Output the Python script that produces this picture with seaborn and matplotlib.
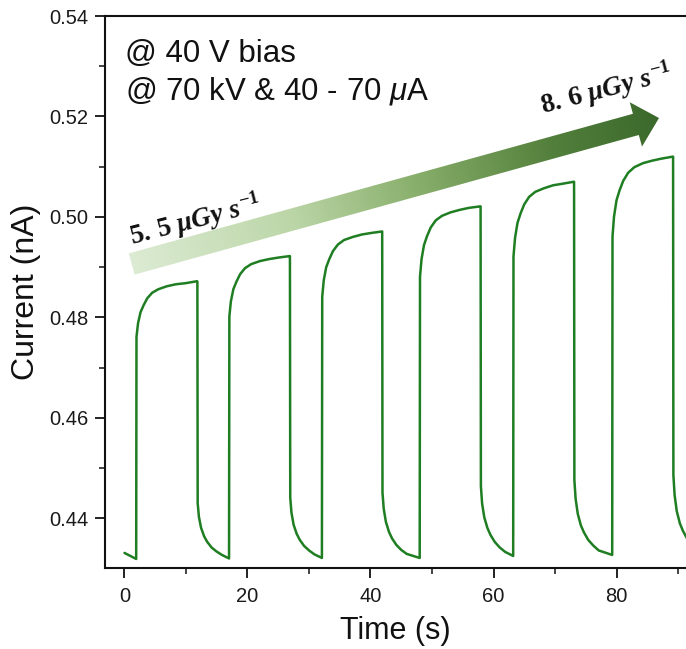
import numpy as np
import pandas as pd
import matplotlib
matplotlib.use("Agg")
import matplotlib.pyplot as plt
import seaborn as sns
from matplotlib.ticker import MultipleLocator, FormatStrFormatter
from matplotlib.patches import Polygon
from matplotlib.colors import LinearSegmentedColormap

# ---------------- data ----------------
time_s = [
    0.0, 0.8, 1.9,
    1.95, 2.2, 2.6, 3.1, 3.7, 4.5, 5.5, 6.9, 8.4, 9.9, 11.8,
    11.85, 11.9, 12.1, 12.45, 12.95, 13.45, 14.15, 14.95, 15.85,
    17.0, 17.05, 17.3, 17.7, 18.2, 18.8, 19.6, 20.6, 22.0, 23.5, 25.0, 26.85,
    26.9, 26.95, 27.15, 27.5, 28.0, 28.5, 29.2, 30.0, 30.9,
    32.1, 32.15, 32.4, 32.8, 33.3, 33.9, 34.7, 35.7, 37.1, 38.6, 40.1, 41.85,
    41.9, 41.95, 42.15, 42.5, 43.0, 43.5, 44.2, 45.0, 45.9,
    48.0, 48.05, 48.3, 48.7, 49.2, 49.8, 50.6, 51.6, 53.0, 54.5, 56.0, 57.85,
    57.9, 57.95, 58.15, 58.5, 59.0, 59.5, 60.2, 61.0, 61.9,
    63.2, 63.25, 63.5, 63.9, 64.4, 65.0, 65.8, 66.8, 68.2, 69.7, 71.2, 73.05,
    73.1, 73.15, 73.35, 73.7, 74.2, 74.7, 75.4, 76.2, 77.1,
    79.3, 79.35, 79.6, 80.0, 80.5, 81.1, 81.9, 82.9, 84.3, 85.8, 87.3, 89.15,
    89.2, 89.25, 89.45, 89.8, 90.3, 90.8, 91.5,
]
current_nA = [
    0.4331, 0.4326, 0.4319,
    0.4761, 0.4788, 0.4810, 0.4824, 0.4838, 0.4849, 0.4856, 0.4862, 0.4866, 0.4868, 0.4872,
    0.4871, 0.4430, 0.4403, 0.4381, 0.4364, 0.4353, 0.4342, 0.4334, 0.4327,
    0.4320, 0.4802, 0.4832, 0.4856, 0.4871, 0.4886, 0.4898, 0.4906, 0.4912, 0.4916, 0.4919, 0.4922,
    0.4922, 0.4441, 0.4411, 0.4387, 0.4369, 0.4357, 0.4345, 0.4336, 0.4328,
    0.4321, 0.4841, 0.4874, 0.4900, 0.4916, 0.4932, 0.4945, 0.4954, 0.4960, 0.4965, 0.4968, 0.4971,
    0.4971, 0.4451, 0.4419, 0.4393, 0.4373, 0.4360, 0.4347, 0.4337, 0.4329,
    0.4321, 0.4881, 0.4916, 0.4944, 0.4962, 0.4979, 0.4993, 0.5002, 0.5009, 0.5014, 0.5018, 0.5021,
    0.5021, 0.4464, 0.4429, 0.4402, 0.4381, 0.4367, 0.4353, 0.4342, 0.4333,
    0.4325, 0.4921, 0.4958, 0.4988, 0.5007, 0.5025, 0.5040, 0.5050, 0.5057, 0.5063, 0.5066, 0.5070,
    0.5070, 0.4476, 0.4439, 0.4409, 0.4386, 0.4372, 0.4357, 0.4346, 0.4336,
    0.4327, 0.4961, 0.5001, 0.5033, 0.5053, 0.5072, 0.5088, 0.5099, 0.5107, 0.5112, 0.5116, 0.5120,
    0.5120, 0.4486, 0.4446, 0.4414, 0.4390, 0.4375, 0.4359,
]
x_ticks = [0, 20, 40, 60, 80]
y_ticks = [0.44, 0.46, 0.48, 0.50, 0.52, 0.54]
x_label = "Time (s)"
y_label = "Current (nA)"
info_lines = ["@ 40 V bias", r"@ 70 kV & 40 - 70 $\mathsf{\mu}$A"]
dose_low = r"$\mathbf{5.\,5}\ \mathit{\mu Gy}\ \mathit{s}^{-1}$"
dose_high = r"$\mathbf{8.\,6}\ \mathit{\mu Gy}\ \mathit{s}^{-1}$"

df = pd.DataFrame({"Time": time_s, "Current": current_nA})

# ---------------- style ----------------
sns.set_theme(style="ticks")
plt.rcParams["font.family"] = ["Liberation Sans", "DejaVu Sans"]
plt.rcParams["mathtext.fontset"] = "custom"
plt.rcParams["mathtext.rm"] = "Liberation Serif:bold"
plt.rcParams["mathtext.bf"] = "Liberation Serif:bold"
plt.rcParams["mathtext.it"] = "Liberation Serif:bold:italic"
plt.rcParams["mathtext.sf"] = "Liberation Sans:italic"

W, H = 686, 649
fig = plt.figure(figsize=(W / 100, H / 100), dpi=100)
ax = fig.add_axes([105 / W, 81 / H, 1 - 105 / W, (568 - 16) / H])

sns.lineplot(data=df, x="Time", y="Current", ax=ax, color="#1f7d22",
             linewidth=1.8, estimator=None, sort=False)

ax.set_xlim(-3.17, 91.3)
ax.set_ylim(0.4301, 0.54)
ax.set_xticks(x_ticks)
ax.set_yticks(y_ticks)
ax.xaxis.set_minor_locator(MultipleLocator(10))
ax.yaxis.set_minor_locator(MultipleLocator(0.01))
ax.yaxis.set_major_formatter(FormatStrFormatter("%.2f"))

for side in ["left", "bottom", "top"]:
    ax.spines[side].set_visible(True)
    ax.spines[side].set_linewidth(1.5)
    ax.spines[side].set_color("#111111")
ax.spines["right"].set_visible(False)

ax.tick_params(axis="both", which="major", direction="out", length=7, width=1.3,
               colors="#111111", labelsize=14.5, pad=5, labelcolor="#1a1a1a")
ax.tick_params(axis="both", which="minor", direction="out", length=4, width=1.1,
               colors="#111111")
ax.tick_params(axis="x", which="major", pad=7)
ax.tick_params(top=False, which="both")

ax.set_xlabel(x_label, fontsize=22, labelpad=7, color="#111111")
ax.set_ylabel(y_label, fontsize=23, labelpad=6, color="#111111")
ax.grid(False)

# ---------------- overlay (pixel coords) for annotations ----------------
ov = fig.add_axes([0, 0, 1, 1])
ov.set_xlim(0, W)
ov.set_ylim(H, 0)
ov.axis("off")

tail = np.array([131.7, 264.0])
tip = np.array([659.0, 118.0])
d = tip - tail
L = np.hypot(*d)
u = d / L
n = np.array([-u[1], u[0]])
hw_shaft, hw_head, head_len = 11.0, 23.0, 24.0
base = tip - head_len * u
verts = [tail - hw_shaft * n, base - hw_shaft * n, base - hw_head * n, tip,
         base + hw_head * n, base + hw_shaft * n, tail + hw_shaft * n]
poly = Polygon(verts, closed=True, facecolor="none", edgecolor="none")
ov.add_patch(poly)

cmap = LinearSegmentedColormap.from_list(
    "arr", [(0.0, "#dcebd3"), (0.3, "#bcd6a8"), (0.55, "#86ad69"),
            (0.8, "#527f3b"), (1.0, "#3b692c")])
vs = np.array(verts)
x0, x1 = vs[:, 0].min() - 2, vs[:, 0].max() + 2
y0, y1 = vs[:, 1].min() - 2, vs[:, 1].max() + 2
gx, gy = np.meshgrid(np.linspace(x0, x1, 400), np.linspace(y0, y1, 200))
grad = ((gx - tail[0]) * u[0] + (gy - tail[1]) * u[1]) / L
im = ov.imshow(grad, extent=(x0, x1, y1, y0), origin="upper", cmap=cmap,
               vmin=0, vmax=1, aspect="auto", interpolation="bilinear")
im.set_clip_path(poly)
ov.set_xlim(0, W)
ov.set_ylim(H, 0)

ov.text(125, 61.5, info_lines[0], fontsize=22.5, color="#111111",
        ha="left", va="baseline")
ov.text(125, 99.5, info_lines[1], fontsize=22.5, color="#111111",
        ha="left", va="baseline")

ov.text(131.5, 245, dose_low, fontsize=19.5, color="#111111", rotation=14.5,
        rotation_mode="anchor", ha="left", va="baseline")
ov.text(543, 114, dose_high, fontsize=19.5, color="#111111", rotation=14.5,
        rotation_mode="anchor", ha="left", va="baseline")

fig.savefig("out.png", dpi=100)
